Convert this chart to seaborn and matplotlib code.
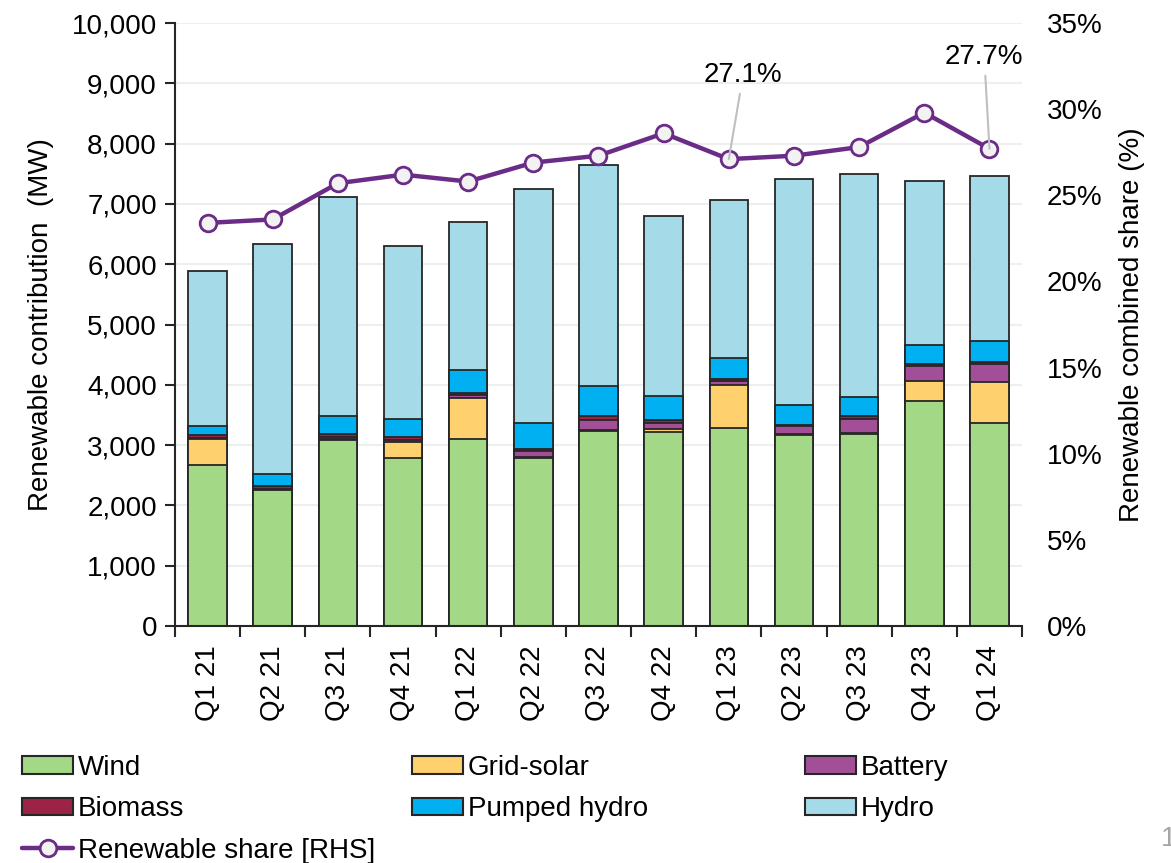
import numpy as np
import pandas as pd
import seaborn as sns
import matplotlib.pyplot as plt
from matplotlib.patches import Patch
from matplotlib.lines import Line2D
from matplotlib.ticker import FuncFormatter

quarters = ['Q1 21', 'Q2 21', 'Q3 21', 'Q4 21', 'Q1 22', 'Q2 22', 'Q3 22',
            'Q4 22', 'Q1 23', 'Q2 23', 'Q3 23', 'Q4 23', 'Q1 24']
wind = [2670, 2250, 3080, 2780, 3100, 2790, 3240, 3210, 3280, 3170, 3190, 3740, 3360]
grid_solar = [430, 10, 20, 270, 680, 10, 10, 65, 715, 10, 10, 330, 680]
battery = [10, 10, 40, 40, 50, 110, 170, 100, 75, 130, 240, 240, 310]
biomass = [60, 50, 50, 40, 30, 30, 55, 50, 25, 20, 40, 40, 25]
pumped_hydro = [150, 200, 290, 300, 390, 420, 510, 390, 355, 330, 320, 315, 360]
hydro = [2560, 3820, 3630, 2880, 2450, 3880, 3660, 2980, 2620, 3750, 3690, 2710, 2730]
share = [23.4, 23.6, 25.7, 26.2, 25.8, 26.9, 27.3, 28.6, 27.1, 27.3, 27.8, 29.8, 27.7]

series = ['Wind', 'Grid-solar', 'Battery', 'Biomass', 'Pumped hydro', 'Hydro']
colors = ['#a2d886', '#ffd16e', '#a34f98', '#9c2246', '#00b0f0', '#a5dbe8']

df = pd.DataFrame({'quarter': quarters, 'Wind': wind, 'Grid-solar': grid_solar,
                   'Battery': battery, 'Biomass': biomass,
                   'Pumped hydro': pumped_hydro, 'Hydro': hydro, 'share': share})
cum = df[series].cumsum(axis=1)
df['pos'] = np.arange(len(df))

sns.set_theme(style="white")
plt.rcParams['font.family'] = ['Liberation Sans', 'DejaVu Sans']
plt.rcParams['font.size'] = 20
plt.rcParams['text.color'] = 'black'
plt.rcParams['axes.labelcolor'] = 'black'
plt.rcParams['xtick.color'] = 'black'
plt.rcParams['ytick.color'] = 'black'
edge = '#262626'
line_col = '#6a2c86'

fig = plt.figure(figsize=(11.71, 8.63), dpi=100)
ax = fig.add_axes([0.1494, 0.2746, 0.7234, 0.6987])

# stacked bars: draw cumulative totals from the top layer down
for name, col in reversed(list(zip(series, colors))):
    sns.barplot(x=df['quarter'], y=cum[name], color=col, saturation=1, width=0.59,
                edgecolor=edge, linewidth=1.3, ax=ax)

ax.set_xlim(-0.5, len(quarters) - 0.5)
ax.set_ylim(0, 10000)
ax.set_yticks(np.arange(0, 10001, 1000))
ax.yaxis.set_major_formatter(FuncFormatter(lambda v, p: f'{v:,.0f}'))
ax.yaxis.grid(True, color='#eeeeee', linewidth=1.5)
ax.set_axisbelow(True)
ax.set_xlabel('')
ax.set_ylabel('Renewable contribution  (MW)', fontsize=20, labelpad=13)
ax.tick_params(axis='y', left=True, length=7, width=1.5, color=edge, pad=6, labelsize=20)
ax.set_xticks(df['pos'])
ax.set_xticklabels(quarters, rotation=90, fontsize=20)
ax.tick_params(axis='x', which='major', bottom=False, length=0, pad=14)
ax.set_xticks(np.arange(-0.5, len(quarters), 1), minor=True)
ax.tick_params(axis='x', which='minor', bottom=True, length=8, width=1.5, color=edge)
for s in ['top', 'right']:
    ax.spines[s].set_visible(False)
for s in ['left', 'bottom']:
    ax.spines[s].set_color(edge)
    ax.spines[s].set_linewidth(1.5)

ax2 = ax.twinx()
sns.lineplot(data=df, x='pos', y='share', color=line_col, linewidth=3.2, marker='o',
             markersize=12, markerfacecolor='#f2f2f2', markeredgecolor=line_col,
             markeredgewidth=2, ax=ax2, legend=False)
ax2.set_ylim(0, 35)
ax2.set_yticks(np.arange(0, 36, 5))
ax2.yaxis.set_major_formatter(FuncFormatter(lambda v, p: f'{v:.0f}%'))
ax2.tick_params(axis='y', right=False, length=0, pad=18, labelsize=20)
ax2.set_ylabel('Renewable combined share (%)', fontsize=20, labelpad=12)
ax2.set_xlabel('')
for s in ['top', 'right', 'left', 'bottom']:
    ax2.spines[s].set_visible(False)

for i, dx, ty in [(8, 0.22, 32.0), (12, -0.08, 33.05)]:
    ax2.annotate(f'{share[i]:.1f}%', xy=(i, share[i]), xytext=(i + dx, ty),
                 ha='center', va='center', fontsize=20,
                 arrowprops=dict(arrowstyle='-', color='#bfbfbf', lw=1.5,
                                 shrinkA=2, shrinkB=0))

# legend laid out as three columns
handles = [Patch(facecolor=c, edgecolor=edge, linewidth=1.5) for c in colors]
share_handle = Line2D([], [], color=line_col, linewidth=3.2, marker='o', markersize=12,
                      markerfacecolor='#f2f2f2', markeredgecolor=line_col, markeredgewidth=2)
columns = [([handles[0], handles[3], share_handle], ['Wind', 'Biomass', 'Renewable share [RHS]'], 22),
           ([handles[1], handles[4]], ['Grid-solar', 'Pumped hydro'], 412),
           ([handles[2], handles[5]], ['Battery', 'Hydro'], 805)]
for h, lab, xpx in columns:
    fig.legend(h, lab, loc='upper left', bbox_to_anchor=(xpx / 1171, 1 - 755 / 863),
               frameon=False, fontsize=20, handlelength=1.85, handleheight=0.6,
               handletextpad=0.15, labelspacing=0.55, borderpad=0, borderaxespad=0)

fig.text(1161 / 1171, 0.02, '1', fontsize=20, color='#a6a6a6', ha='left')

fig.savefig('out.png', dpi=100)
